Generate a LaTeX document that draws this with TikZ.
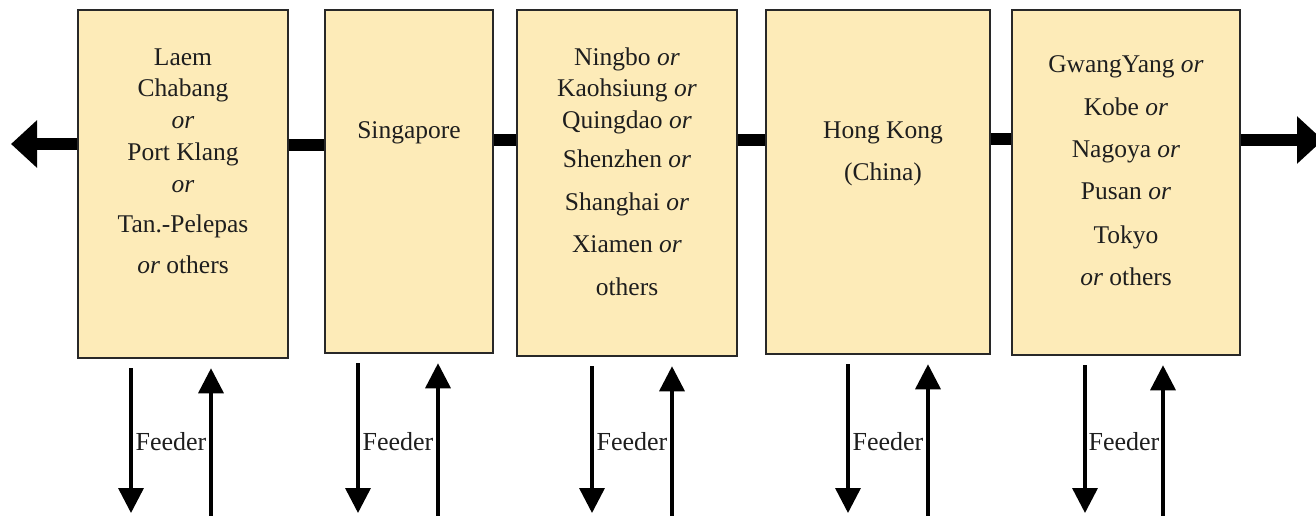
\documentclass[tikz,border=0pt]{standalone}
\usepackage{fontspec}
\setmainfont{Liberation Serif}
\usepackage{tikz}
\usetikzlibrary{arrows.meta, calc}
\definecolor{portfill}{RGB}{253,235,184}
\definecolor{portline}{RGB}{40,40,40}
\definecolor{inktext}{RGB}{30,30,30}

\begin{document}
\begin{tikzpicture}[x=1pt, y=-1pt,
  port/.style={draw=portline, line width=2.5pt, fill=portfill, inner sep=0pt},
  txt/.style={anchor=base, inner sep=0pt, text=inktext, font=\fontsize{25.5}{30}\selectfont},
  lbl/.style={anchor=base, inner sep=0pt, text=inktext, font=\fontsize{26}{30}\selectfont},
  bar/.style={line width=12pt, black},
  bigarrow/.style={line width=12pt, black, -{Triangle[width=46pt, length=26pt]}},
  feeder/.style={line width=3.5pt, black, -{Triangle[width=25pt, length=25pt]}}]
  \useasboundingbox (0,0) rectangle (1316,515);
  \clip (0,0) rectangle (1316,515);

  %% Ports
  \node[port, minimum width=210pt, minimum height=348pt] (b1) at (183,184) {};
  \node[port, minimum width=168pt, minimum height=343pt] (b2) at (409,181.5) {};
  \node[port, minimum width=220pt, minimum height=346pt] (b3) at (627,183) {};
  \node[port, minimum width=224pt, minimum height=344pt] (b4) at (878,182) {};
  \node[port, minimum width=228pt, minimum height=345pt] (b5) at (1126,182.5) {};

  %% Main line between ports
  \coordinate (west) at (11,144);
  \coordinate (east) at (1323,140);
  \draw[bigarrow] (b1.west |- 0,144) -- (west);
  \draw[bar] (b1.east |- 0,145) -- (b2.west |- 0,145);
  \draw[bar] (b2.east |- 0,140) -- (b3.west |- 0,140);
  \draw[bar] (b3.east |- 0,140) -- (b4.west |- 0,140);
  \draw[bar] (b4.east |- 0,139) -- (b5.west |- 0,139);
  \draw[bigarrow] (b5.east |- 0,140) -- (east);

  %% Port names
  \foreach \y/\t [count=\i] in {65/Laem, 96/Chabang, 128/\textit{or}, 160/Port Klang,
      192/\textit{or}, 232/Tan.-Pelepas, 273/{\textit{or} others}}
    \node[txt] (b1-\i) at (183,\y) {\t};
  \node[txt] (b2-1) at (409,138) {Singapore};
  \foreach \y/\t [count=\i] in {65/{Ningbo \textit{or}}, 96/{Kaohsiung \textit{or}},
      128/{Quingdao \textit{or}}, 167/{Shenzhen \textit{or}}, 210/{Shanghai \textit{or}},
      252/{Xiamen \textit{or}}, 295/others}
    \node[txt] (b3-\i) at (627,\y) {\t};
  \node[txt] (b4-1) at (883,138) {Hong Kong};
  \node[txt] (b4-2) at (883,180) {(China)};
  \foreach \y/\t [count=\i] in {72/{GwangYang \textit{or}}, 115/{Kobe \textit{or}},
      157/{Nagoya \textit{or}}, 199/{Pusan \textit{or}}, 243/Tokyo, 285/{\textit{or} others}}
    \node[txt] (b5-\i) at (1126,\y) {\t};

  %% Feeder links
  \foreach \b/\xd/\xu in {b1/131/211, b2/358/438, b3/592/672, b4/848/928, b5/1085/1163} {
    \coordinate (\b-down) at (\xd,513);
    \coordinate (\b-up) at (\xu,520);
    \draw[feeder] ([yshift=-9pt]\b.south -| \xd,0) -- (\b-down);
    \draw[feeder] (\b-up) -- ([yshift=-9pt]\b.south -| \xu,0);
    \node[lbl] (\b-feeder) at ($(\xd,450)!0.5!(\xu,450)$) {Feeder};
  }
\end{tikzpicture}
\end{document}
